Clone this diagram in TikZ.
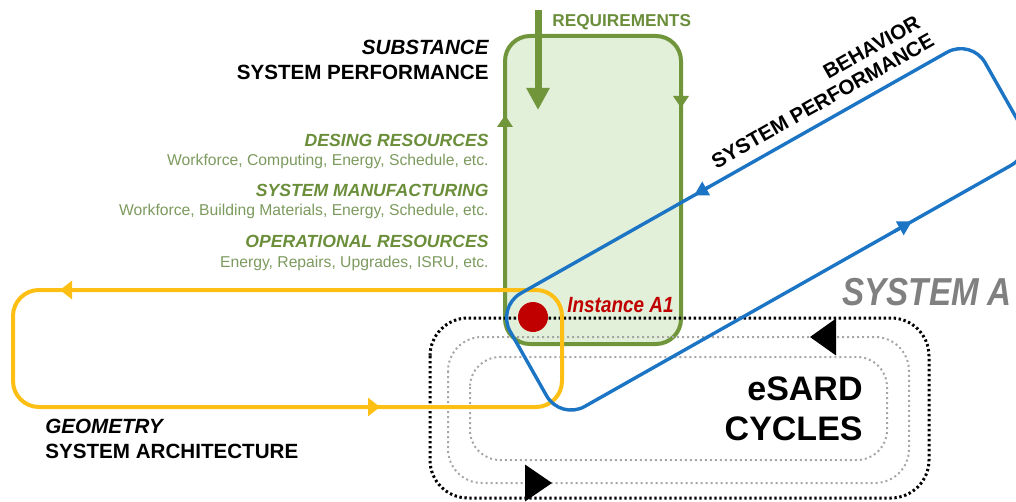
\documentclass[tikz,border=0pt]{standalone}
\usepackage{fontspec}
\setmainfont{Liberation Sans}
\usepackage{graphicx}
\usetikzlibrary{
	arrows.meta,
	positioning,
	calc
}

\definecolor{verde}{HTML}{70953B}
\definecolor{verdefondo}{HTML}{E2EFD9}
\definecolor{verdetexto}{HTML}{6B8E3A}
\definecolor{verdesuave}{HTML}{7C9A5E}
\definecolor{oro}{HTML}{FDBF14}
\definecolor{azul}{HTML}{1C75C4}
\definecolor{rojo}{HTML}{C00000}
\definecolor{gris}{HTML}{808080}
\definecolor{grispunto}{HTML}{A6A6A6}

\begin{document}
\begin{tikzpicture}[x=0.5pt, y=-0.5pt,
  caja/.style={draw=verde, fill=verdefondo, line width=2pt, rounded corners=12.5pt},
  lazoverde/.style={draw=verde, line width=2pt, -{Triangle[length=6pt, width=7.5pt]}},
  lazoamarillo/.style={draw=oro, line width=2pt},
  lazoazul/.style={draw=azul, line width=1.7pt},
  puntonegro/.style={draw=black, line width=1.5pt, dash pattern=on 1.2pt off 1.3pt},
  puntogris/.style={draw=grispunto, line width=1pt, dash pattern=on 1pt off 1.5pt},
  titulo/.style={font=\bfseries\fontsize{10.3}{12}\selectfont, inner sep=0},
  recurso/.style={font=\bfseries\itshape\fontsize{8.8}{10}\selectfont, text=verdetexto,
    inner sep=0, anchor=base east},
  detalle/.style={font=\fontsize{7.85}{9}\selectfont, text=verdesuave,
    inner sep=0, anchor=base east}
]
\useasboundingbox (0,0) rectangle (1016,502);
\clip (0,0) rectangle (1016,502);

% substance loop
\draw[caja] (505,36) rectangle (681,344);
\draw[lazoverde] (505,135) -- (505,115);
\draw[lazoverde] (681,88) -- (681,108);

% esard cycles
\draw[puntonegro, rounded corners=19pt] (430,318) rectangle (929,498);
\draw[puntogris, rounded corners=17pt] (448,337) rectangle (909,483);
\draw[puntogris, rounded corners=15pt] (470,357) rectangle (887,460);
\fill (836,318.5) -- (810,337) -- (836,355.5) -- cycle;
\fill (525,464.5) -- (552,483) -- (525,501.5) -- cycle;

% geometry loop
\draw[lazoamarillo, rounded corners=13pt] (13,290) rectangle (562,407);
\draw[lazoamarillo, -{Triangle[length=6pt, width=9pt]}] (80,290) -- (60,290);
\draw[lazoamarillo, -{Triangle[length=6pt, width=9pt]}] (360,407) -- (380,407);

% behavior loop
\coordinate (bA) at (496.4,307.1);
\coordinate (bB) at (971.4,38.5);
\coordinate (bC) at (1035.4,151.6);
\coordinate (bD) at (560.4,420.2);
\draw[lazoazul, rounded corners=14pt] (bA) -- (bB) -- (bC) -- (bD) -- cycle;
\draw[lazoazul, -{Triangle[length=7pt, width=7.5pt]}] ($(bB)!0.553!(bA)$) -- ($(bB)!0.584!(bA)$);
\draw[lazoazul, -{Triangle[length=7pt, width=7.5pt]}] ($(bD)!0.703!(bC)$) -- ($(bD)!0.740!(bC)$);

% requirements
\draw[verde, line width=3.5pt, -{Triangle[length=11pt, width=11pt]}] (538,10) -- (538,110);
\node[font=\bfseries\fontsize{8.6}{10}\selectfont, text=verdetexto, inner sep=0,
  anchor=base west] (req) at (552,27) {REQUIREMENTS};

% instance
\node[circle, fill=rojo, minimum size=15pt, inner sep=0] (a1) at (533,317) {};
\node[font=\bfseries\itshape\fontsize{11}{12}\selectfont, text=rojo, inner sep=0,
  anchor=base west] (inst) at (567,312) {\scalebox{0.86}[1]{Instance A1}};

% labels
\node[titulo, anchor=base east] (sub) at (489,55) {\itshape SUBSTANCE};
\node[titulo, anchor=base east] (subperf) at (489,80) {SYSTEM PERFORMANCE};
\node[recurso] (dis) at (489,147) {DESING RESOURCES};
\node[detalle] (disd) at (489,166) {Workforce, Computing, Energy, Schedule, etc.};
\node[recurso] (man) at (489,197) {SYSTEM MANUFACTURING};
\node[detalle] (mand) at (489,216) {Workforce, Building Materials, Energy, Schedule, etc.};
\node[recurso] (ope) at (489,248) {OPERATIONAL RESOURCES};
\node[detalle] (oped) at (489,267) {Energy, Repairs, Upgrades, ISRU, etc.};
\node[titulo, anchor=base west] (geo) at (45,433) {\itshape GEOMETRY};
\node[titulo, anchor=base west] (geoarq) at (45,458) {SYSTEM ARCHITECTURE};
\node[titulo, anchor=base east, rotate=29.5] (beh) at (922,27) {BEHAVIOR};
\node[titulo, anchor=base east, rotate=29.5] (behperf) at (936,45) {SYSTEM PERFORMANCE};
\node[font=\bfseries\fontsize{17}{20}\selectfont, inner sep=0, anchor=base east] (esard) at (863,400) {eSARD};
\node[font=\bfseries\fontsize{17}{20}\selectfont, inner sep=0, anchor=base east] (cyc) at (863,440) {CYCLES};
\node[font=\bfseries\itshape\fontsize{19.5}{22}\selectfont, text=gris, inner sep=0,
  anchor=base west] (sysa) at (842,305) {\scalebox{0.85}[1]{SYSTEM A}};
\end{tikzpicture}
\end{document}
